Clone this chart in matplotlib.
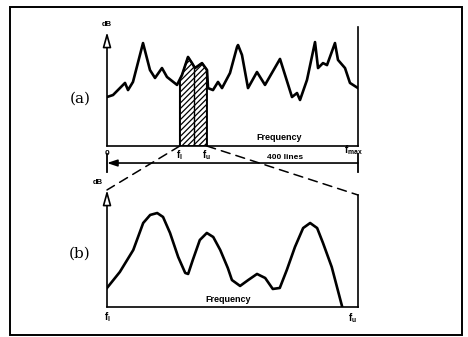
import numpy as np
import matplotlib
matplotlib.use('Agg')
import matplotlib.pyplot as plt
from matplotlib.patches import ConnectionPatch, Rectangle

# (a) baseband spectrum, 0 .. f_max (400 lines), level in arbitrary dB
freq_a = [0, 9.6, 28.7, 33.5, 41.4, 57.4, 68.5, 76.5, 87.6, 95.6, 111.6, 119.5,
          129.1, 135.5, 140.2, 151.4, 159.4, 161.0, 168.9, 176.9, 183.3, 196.0,
          207.2, 208.8, 215.1, 224.7, 239.0, 251.8, 275.7, 294.8, 302.8, 307.6,
          318.7, 331.5, 336.3, 344.2, 350.6, 363.3, 368.1, 379.3, 387.2, 400]
level_a = [24.7, 25.7, 31.8, 28.2, 32.3, 51.9, 38.3, 34.3, 39.3, 34.8, 30.8, 35.8,
           44.9, 41.8, 39.3, 41.8, 38.3, 29.2, 28.2, 32.3, 29.2, 36.8,
           49.9, 50.9, 45.9, 29.2, 37.3, 30.8, 43.9, 24.7, 26.7, 23.2,
           33.3, 52.4, 39.3, 41.8, 40.8, 51.9, 43.4, 39.3, 31.8, 29.2]
f_max = 400
f_l, f_mid, f_u = 116, 139, 159

# (b) zoom band f_l .. f_u
freq_b = [116.0, 118.2, 120.5, 122.2, 123.4, 124.6, 125.6, 126.8, 128.2, 129.4,
          129.9, 130.7, 131.9, 133.1, 134.2, 135.4, 136.7, 137.4, 138.8, 140.2,
          141.7, 143.1, 144.4, 145.6, 146.8, 148.2, 149.6, 150.8, 152.0, 153.0,
          154.5, 156.3]
level_b = [17.0, 31.3, 50.9, 75.0, 82.2, 83.9, 80.4, 66.1, 44.6, 30.4,
           29.5, 42.0, 59.8, 66.1, 62.5, 50.9, 34.8, 24.1, 18.8, 24.1,
           29.5, 25.9, 16.1, 17.0, 33.0, 53.6, 70.5, 75.0, 70.5, 57.2,
           35.7, 0.0]

W, H = 468, 337
SANS = 'Liberation Sans'
plt.rcParams['mathtext.fontset'] = 'custom'
plt.rcParams['mathtext.bf'] = 'Liberation Sans:bold'
plt.rcParams['mathtext.rm'] = 'Liberation Sans:bold'
plt.rcParams['mathtext.default'] = 'bf'
plt.rcParams['hatch.linewidth'] = 0.9


def px_box(x0, y0, x1, y1):
    return [x0 / W, 1 - y1 / H, (x1 - x0) / W, (y1 - y0) / H]


def style_axes(ax, ymax, top):
    ax.set_ylim(0, ymax)
    ax.set_xticks([])
    ax.set_yticks([])
    ax.patch.set_alpha(0)
    for s in ['top', 'left']:
        ax.spines[s].set_visible(False)
    for s in ['right', 'bottom']:
        ax.spines[s].set_linewidth(1.2)
    x0 = ax.get_xlim()[0]
    ax.annotate('', xy=(x0, top), xytext=(x0, 0), annotation_clip=False,
                arrowprops=dict(arrowstyle='-|>,head_length=0.9,head_width=0.25',
                                fc='white', ec='black', lw=1.2,
                                shrinkA=0, shrinkB=0))


fig = plt.figure(figsize=(W / 100, H / 100), dpi=100)
fig.patches.append(Rectangle((10 / W, 2 / H), 452 / W, 328 / H, fill=False,
                             lw=1.4, ec='black', transform=fig.transFigure))

# ---- (a)
ax_a = fig.add_axes(px_box(107, 27, 358, 146))
ax_a.set_xlim(0, f_max)
style_axes(ax_a, 60, 57.5)
ax_a.plot(freq_a, level_a, color='black', lw=1.9, solid_joinstyle='round')

fa = np.array(freq_a)
band = np.concatenate([[f_l], fa[(fa > f_l) & (fa < f_u)], [f_u]])
band_lv = np.interp(band, freq_a, level_a)
ax_a.fill_between(band, 0, band_lv, facecolor='white', edgecolor='black',
                  hatch='//////', lw=1.2)
ax_a.plot([f_l, f_l], [0, np.interp(f_l, freq_a, level_a)], color='black', lw=1.2)
ax_a.plot([f_u, f_u], [0, np.interp(f_u, freq_a, level_a)], color='black', lw=1.2)
ax_a.plot([f_mid, f_mid], [0, np.interp(f_mid, freq_a, level_a)], color='black', lw=1.0)

ax_a.text(0, 61.5, 'dB', fontsize=5.5, fontweight='bold', family=SANS,
          ha='center', va='center')
ax_a.text(275, 4.5, 'Frequency', fontsize=6.5, fontweight='bold', family=SANS,
          ha='center', va='center')
ax_a.text(-0.108, 0.395, '(a)', fontsize=11, family='DejaVu Serif',
          ha='center', va='center', transform=ax_a.transAxes)

xt = ax_a.get_xaxis_transform()
ax_a.text(0, -0.06, '0', fontsize=6, fontweight='bold', family=SANS,
          ha='center', va='center', transform=xt)
ax_a.text(f_l, -0.08, r'$f_l$', fontsize=7, ha='center', va='center', transform=xt)
ax_a.text(f_u, -0.08, r'$f_u$', fontsize=7, ha='center', va='center', transform=xt)
ax_a.text(392, -0.035, r'$f_{max}$', fontsize=7, ha='center', va='center', transform=xt)
ax_a.text(284, -0.095, '400 lines', fontsize=6, fontweight='bold', family=SANS,
          ha='center', va='center', transform=xt)
ax_a.annotate('', xy=(0, -0.143), xytext=(f_max, -0.143), xycoords=xt,
              annotation_clip=False,
              arrowprops=dict(arrowstyle='-|>,head_length=0.6,head_width=0.2',
                              fc='black', ec='black', lw=1.2, shrinkA=0, shrinkB=0))
for x in [0, f_max]:
    ax_a.plot([x, x], [-0.067, -0.218], color='black', lw=1.3,
              transform=xt, clip_on=False)

# ---- (b)
ax_b = fig.add_axes(px_box(107, 195, 358, 307))
ax_b.set_xlim(f_l, f_u)
style_axes(ax_b, 100, 104.5)
ax_b.plot(freq_b, level_b, color='black', lw=1.9, solid_joinstyle='round')
ax_b.text(-0.036, 1.116, 'dB', fontsize=5.5, fontweight='bold', family=SANS,
          ha='center', va='center', transform=ax_b.transAxes)
ax_b.text(-0.108, 0.473, '(b)', fontsize=11, family='DejaVu Serif',
          ha='center', va='center', transform=ax_b.transAxes)
ax_b.text(136.7, 7.1, 'Frequency', fontsize=6.5, fontweight='bold', family=SANS,
          ha='center', va='center')
ax_b.text(0, -0.09, r'$f_l$', fontsize=7, ha='center', va='center',
          transform=ax_b.transAxes)
ax_b.text(0.98, -0.1, r'$f_u$', fontsize=7, ha='center', va='center',
          transform=ax_b.transAxes)

# dashed zoom lines
for xa, yb in [(f_l, 104.5), (f_u, 100)]:
    con = ConnectionPatch(xyA=(xa, 0), coordsA=ax_a.transData,
                          xyB=(xa, yb), coordsB=ax_b.transData,
                          ls=(0, (6, 4)), lw=1.1, color='black')
    fig.add_artist(con)

fig.savefig('out.png', dpi=100)
